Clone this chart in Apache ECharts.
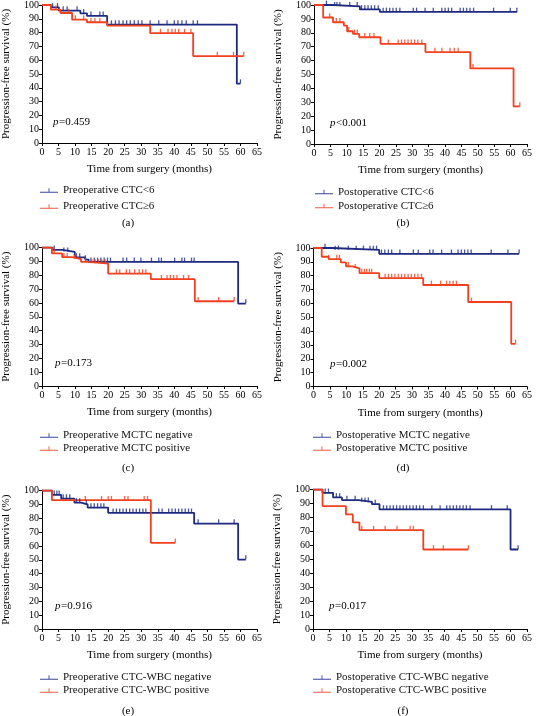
<!DOCTYPE html>
<html><head><meta charset="utf-8">
<script src="https://cdn.jsdelivr.net/npm/echarts@6/dist/echarts.min.js"></script>
<style>html,body{margin:0;padding:0;background:#fff}#c{width:539px;height:716px}</style>
</head><body><div id="c"></div>
<script>
// ---------- DATA ----------
const xMax = 65, xStep = 5, yMax = 100, yStep = 10;
const panelLabels = ['(a)', '(b)', '(c)', '(d)', '(e)', '(f)'];
const pValues = ['=0.459', '<0.001', '=0.173', '=0.002', '=0.916', '=0.017'];
const namesA = ['Preoperative CTC<6', 'Preoperative CTC\u22656'];
const namesB = ['Postoperative CTC<6', 'Postoperative CTC\u22656'];
const namesC = ['Preoperative MCTC negative', 'Preoperative MCTC positive'];
const namesD = ['Postoperative MCTC negative', 'Postoperative MCTC positive'];
const namesE = ['Preoperative CTC-WBC negative', 'Preoperative CTC-WBC positive'];
const namesF = ['Postoperative CTC-WBC negative', 'Postoperative CTC-WBC positive'];

// panel (a)
const aBlueT = [0, 2.7, 5.1, 11.6, 13.6, 19.7, 58.9, 60];
const aBlueS = [100, 98.3, 95.9, 94, 92.1, 85.8, 43, 43];
const aBlueC = [3.2, 4.7, 6.4, 7.6, 10.6, 12.6, 14.8, 17.5, 18.5, 21, 22.2, 23.3, 24.5, 25.6, 26.7, 27.9, 29.1, 30.2, 32.7, 35.3, 37.8, 40, 41.1, 42.3, 43.6, 45.7, 47, 60];
const aRedT = [0, 2.7, 5.6, 9.1, 13.6, 19.7, 32.7, 45.7, 61];
const aRedS = [100, 96.6, 94.2, 89.4, 87.5, 85, 79.6, 63, 63];
const aRedC = [4.2, 8.1, 10.1, 12.6, 14.8, 16, 17.5, 35.8, 38.1, 39.3, 40.3, 41.3, 43.1, 45, 53, 57.9, 61];
// panel (b)
const bBlueT = [0, 5.8, 14, 20.1, 62];
const bBlueS = [100, 99, 96.8, 95, 95];
const bBlueC = [3.8, 6.3, 7, 7.9, 10.9, 13.2, 14.5, 15.5, 16.5, 17.5, 18.5, 19.6, 21.1, 22.1, 23.1, 24.1, 25.1, 26.2, 30.3, 31.3, 33.9, 36.4, 39, 40, 41, 42, 44.6, 45.6, 46.6, 47.6, 48.7, 54.8, 59.9, 61.9];
const bRedT = [0, 2.8, 5.8, 9.1, 10.1, 11.9, 13.8, 20.3, 34, 47.7, 60.9, 62.8];
const bRedS = [100, 91, 87.6, 85.2, 81.1, 79.2, 76.8, 72.1, 66.1, 54.4, 27, 27];
const bRedC = [4.8, 6.8, 7.9, 10.6, 12.4, 13.2, 15.5, 17, 18.3, 22.7, 25.7, 26.7, 27.7, 28.7, 29.7, 30.7, 31.7, 32.9, 36.9, 39, 41.5, 42.8, 44, 48.5, 62.8];
// panel (c)
const cBlueT = [0, 3.2, 6.1, 9.9, 13.1, 14.1, 59.3, 61.6];
const cBlueS = [100, 98.3, 96.9, 92.8, 91.3, 89.6, 59.5, 59.5];
const cBlueC = [3.7, 6.6, 7.8, 10.4, 11.4, 13.1, 14.8, 15.8, 16.8, 17.8, 18.8, 19.8, 20.7, 24.5, 25.6, 27.9, 29.9, 33.1, 35.3, 36.1, 40.1, 42.3, 43.1, 45.2, 46, 61.6];
const cRedT = [0, 3, 6.1, 9.1, 11.8, 14.1, 20, 32.9, 46.2, 58.1];
const cRedS = [100, 95.7, 93, 91.7, 89.6, 88.4, 81.2, 77.1, 61.2, 61.2];
const cRedC = [3.7, 6.6, 7.6, 9.8, 13.1, 15.1, 16.1, 17.1, 18.1, 19.1, 22.5, 23.5, 25.5, 26.5, 28, 29.4, 30.4, 31.4, 36.1, 37.8, 38.8, 39.8, 40.8, 42.8, 44.3, 47.2, 53.4, 58.1];
// panel (d)
const dBlueT = [0, 5.6, 20, 62.6];
const dBlueS = [100, 98.6, 95.8, 95.8];
const dBlueC = [3.5, 6.6, 7.6, 10.6, 13, 15.2, 17.2, 18.2, 19.2, 20.7, 21.7, 22.8, 23.8, 26.3, 30.4, 31.9, 35.4, 36.4, 39, 42, 44, 45, 46, 47, 48, 54.1, 59.2, 62.6];
const dRedT = [0, 2.5, 4.6, 8.3, 9.9, 11.9, 14, 20, 33.4, 47.1, 60.2, 61.5];
const dRedS = [100, 93.7, 92, 89.6, 86.7, 85.3, 81.9, 78.3, 73.3, 61, 30.8, 30.8];
const dRedC = [4.6, 7.1, 7.9, 10.6, 12.7, 14.7, 15.5, 16.2, 17, 17.7, 21.8, 22.8, 23.8, 24.8, 25.8, 26.8, 27.8, 28.8, 29.8, 30.8, 31.8, 32.9, 35.9, 38.7, 40.5, 41.5, 42.5, 43.5, 48.1, 61.5];
// panel (e)
const eBlueT = [0, 3, 5.8, 9.8, 11.8, 13.8, 20, 46, 59.3, 61.6];
const eBlueS = [100, 96.9, 94.2, 91.3, 89.9, 87.7, 83.9, 76.1, 50.1, 50.1];
const eBlueC = [3.7, 4.5, 5.2, 6.4, 7.4, 8.4, 10.4, 11.4, 13.4, 14.8, 15.8, 16.8, 17.8, 18.7, 21.5, 22.5, 23.5, 24.5, 25.5, 26.5, 27.5, 28.5, 29.5, 30.5, 31.4, 35.3, 36.3, 38.3, 39.3, 40.3, 41.3, 42.3, 43.3, 44.3, 45.2, 47.2, 53.4, 58.1, 61.6];
const eRedT = [0, 3, 32.9, 40.3];
const eRedS = [100, 93, 62.2, 62.2];
const eRedC = [13.1, 18, 20, 21, 25, 26, 30.9, 31.9, 40.3];
// panel (f)
const fBlueT = [0, 2.9, 6.1, 8.8, 13.8, 17.9, 20.2, 60, 62.3];
const fBlueS = [100, 97.6, 94.3, 92.4, 91.2, 89.5, 85.7, 57, 57];
const fBlueC = [3.7, 4.7, 7.1, 8.1, 10.3, 12.8, 14.8, 15.8, 16.8, 18.9, 21.4, 22.4, 23.4, 24.4, 25.4, 26.4, 27.4, 28.4, 29.4, 30.4, 31.4, 32.4, 33.5, 36.1, 38.6, 40.6, 41.6, 42.6, 43.6, 44.6, 45.6, 46.6, 47.7, 54.2, 59, 62.3];
const fRedT = [0, 2.9, 10, 12.1, 14.1, 33.5, 47.2];
const fRedS = [100, 88.1, 82.1, 76.4, 70.9, 57, 57];
const fRedC = [14.8, 18.4, 21.9, 25.5, 29.5, 30.5, 36.6, 39.6, 47.2];

// ---------- BUILD ----------
const BLUE = '#1d2a80', RED = '#f2401f';
const FONT = 'Liberation Serif';
const panels = [
  {names: namesA, blue: [aBlueT, aBlueS, aBlueC], red: [aRedT, aRedS, aRedC], g: {left: 38, top: 4.5, width: 219, height: 138.5}, lg: {left: 40, top: 184, gap: 3}, p: [53, 122], lab: [128, 223]},
  {names: namesB, blue: [bBlueT, bBlueS, bBlueC], red: [bRedT, bRedS, bRedC], g: {left: 314, top: 5, width: 213, height: 139}, lg: {left: 315, top: 185.5, gap: 1}, p: [330, 123], lab: [403, 223]},
  {names: namesC, blue: [cBlueT, cBlueS, cBlueC], red: [cRedT, cRedS, cRedC], g: {left: 38, top: 247.5, width: 219, height: 138.5}, lg: {left: 40, top: 429, gap: 0}, p: [55, 363], lab: [128, 468]},
  {names: namesD, blue: [dBlueT, dBlueS, dBlueC], red: [dRedT, dRedS, dRedC], g: {left: 313.5, top: 248, width: 213.5, height: 138.5}, lg: {left: 313, top: 429, gap: 0}, p: [330, 364], lab: [403, 468]},
  {names: namesE, blue: [eBlueT, eBlueS, eBlueC], red: [eRedT, eRedS, eRedC], g: {left: 38, top: 490.5, width: 219, height: 138.5}, lg: {left: 40, top: 671, gap: 0}, p: [55, 606], lab: [128, 711]},
  {names: namesF, blue: [fBlueT, fBlueS, fBlueC], red: [fRedT, fRedS, fRedC], g: {left: 313, top: 489.5, width: 214, height: 139.5}, lg: {left: 313, top: 671, gap: 0}, p: [329, 606], lab: [403, 711]}
];

function valAt(T, S, t) {
  let v = S[0];
  for (let i = 0; i < T.length; i++) { if (T[i] <= t) v = S[i]; }
  return v;
}

const grid = [], xAxis = [], yAxis = [], series = [], legend = [], graphic = [];
const axisBase = {
  axisLine: {show: true, lineStyle: {color: '#000', width: 1}},
  axisTick: {show: true, inside: false, length: 3, lineStyle: {color: '#000'}},
  splitLine: {show: false},
  axisLabel: {color: '#000', fontFamily: FONT, fontSize: 10},
  nameTextStyle: {color: '#000', fontFamily: FONT, fontSize: 11}
};
const legendIcon = 'path://M0,6H20V7H0Z M9.5,2H10.5V6H9.5Z';

panels.forEach((p, k) => {
  grid.push(Object.assign({containLabel: false}, p.g));
  xAxis.push(Object.assign({}, axisBase, {
    gridIndex: k, type: 'value', min: 0, max: xMax, interval: xStep,
    name: 'Time from surgery (months)', nameLocation: 'middle', nameGap: 21,
    axisLabel: Object.assign({}, axisBase.axisLabel, {margin: 4})
  }));
  yAxis.push(Object.assign({}, axisBase, {
    gridIndex: k, type: 'value', min: 0, max: yMax, interval: yStep,
    name: 'Progression-free survival (%)', nameLocation: 'middle', nameGap: 30,
    axisLabel: Object.assign({}, axisBase.axisLabel, {margin: 3})
  }));
  [['blue', BLUE, 0], ['red', RED, 1]].forEach(([key, col, ni]) => {
    const [T, S, C] = p[key];
    series.push({
      name: p.names[ni], type: 'line', xAxisIndex: k, yAxisIndex: k, step: 'end',
      showSymbol: false, symbol: 'none', color: col,
      lineStyle: {color: col, width: 1.8}, itemStyle: {color: col},
      data: T.map((t, i) => [t, S[i]]), animation: false, z: 3
    });
    series.push({
      name: p.names[ni] + ' censored', type: 'scatter', xAxisIndex: k, yAxisIndex: k,
      symbol: 'rect', symbolSize: [1.3, 4], symbolOffset: [0, -2.3],
      itemStyle: {color: col}, silent: true, animation: false, z: 4,
      data: C.map(t => [t, valAt(T, S, t)])
    });
  });
  legend.push({
    orient: 'vertical', left: p.lg.left, top: p.lg.top, itemGap: p.lg.gap,
    itemWidth: 18, itemHeight: 5, icon: legendIcon, padding: 0,
    data: p.names.map((n, i) => ({name: n, itemStyle: {color: i ? '#f25a40' : '#3a46a0'}})),
    textStyle: {color: '#111', fontFamily: FONT, fontSize: 11, lineHeight: 13}, selectedMode: false
  });
  graphic.push({type: 'text', x: p.p[0], y: p.p[1], style: {text: 'p', font: 'italic 11px "Liberation Serif"', fill: '#000', verticalAlign: 'middle'}});
  graphic.push({type: 'text', x: p.p[0] + 6, y: p.p[1], style: {text: pValues[k], font: '11px "Liberation Serif"', fill: '#000', verticalAlign: 'middle'}});
  graphic.push({type: 'text', x: p.lab[0], y: p.lab[1], style: {text: panelLabels[k], font: '11px "Liberation Serif"', fill: '#000', align: 'center', verticalAlign: 'middle'}});
});

const chart = echarts.init(document.getElementById('c'), null, {renderer: 'canvas'});
chart.setOption({animation: false, backgroundColor: '#fff', grid, xAxis, yAxis, series, legend, graphic});
</script></body></html>
